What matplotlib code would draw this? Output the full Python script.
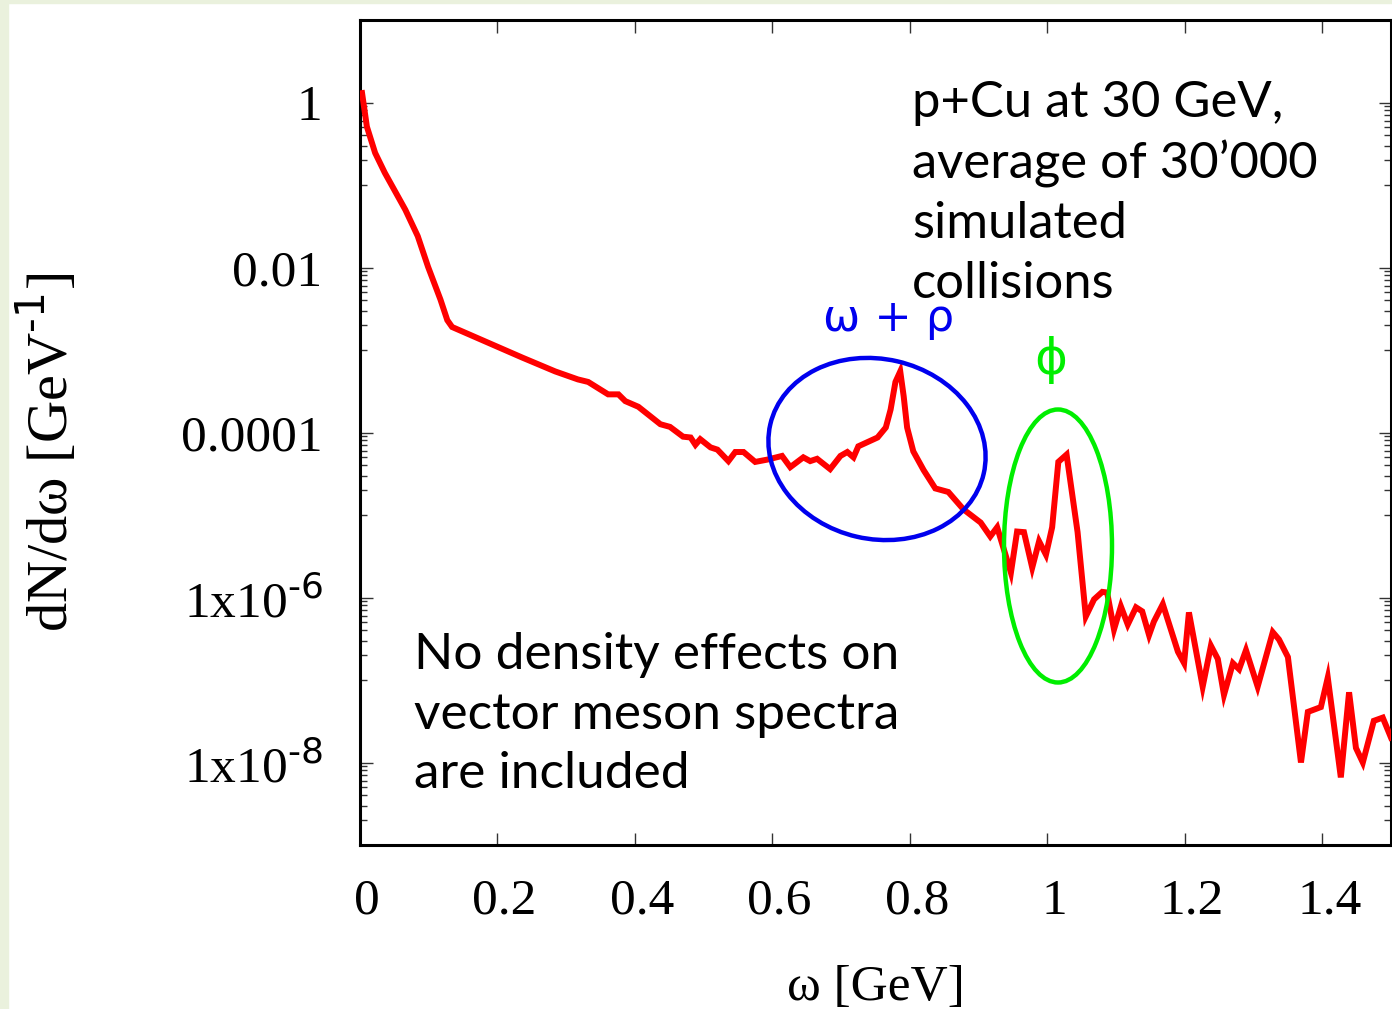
import matplotlib
matplotlib.use("Agg")
import matplotlib.pyplot as plt
from matplotlib.patches import Ellipse, Rectangle
from matplotlib.ticker import NullFormatter
from matplotlib.transforms import ScaledTranslation

# spectrum (omega in GeV, dN/domega in 1/GeV)
omega = [0.003, 0.010, 0.022, 0.036, 0.066, 0.084, 0.099, 0.117, 0.127, 0.134,
         0.186, 0.236, 0.284, 0.317, 0.332, 0.361, 0.376, 0.386, 0.405, 0.437,
         0.451, 0.470, 0.481, 0.488, 0.495, 0.510, 0.520, 0.536, 0.546, 0.558,
         0.575, 0.593, 0.614, 0.626, 0.645, 0.655, 0.665, 0.684, 0.699, 0.709,
         0.718, 0.725, 0.753, 0.765, 0.772, 0.779, 0.786, 0.791, 0.796, 0.805,
         0.820, 0.837, 0.856, 0.878, 0.903, 0.917, 0.927, 0.947, 0.956, 0.966,
         0.978, 0.988, 0.998, 1.007, 1.016, 1.028, 1.044, 1.056, 1.068, 1.080,
         1.087, 1.097, 1.107, 1.117, 1.129, 1.138, 1.148, 1.155, 1.168, 1.190,
         1.199, 1.206, 1.226, 1.238, 1.248, 1.257, 1.270, 1.279, 1.289, 1.306,
         1.328, 1.337, 1.350, 1.369, 1.379, 1.398, 1.408, 1.427, 1.439, 1.449,
         1.459, 1.475, 1.488, 1.500]
dNdw = [1.3, 0.51, 0.245, 0.141, 0.050, 0.024, 0.0102, 0.0041, 0.0023, 0.0019,
        1.23e-3, 8.1e-4, 5.5e-4, 4.4e-4, 4.1e-4, 2.9e-4, 2.9e-4, 2.4e-4, 2.05e-4, 1.26e-4,
        1.17e-4, 8.9e-5, 8.7e-5, 7.1e-5, 8.3e-5, 6.6e-5, 6.2e-5, 4.5e-5, 5.8e-5, 5.8e-5,
        4.4e-5, 4.7e-5, 5.2e-5, 3.8e-5, 5.0e-5, 4.5e-5, 4.8e-5, 3.6e-5, 5.2e-5, 5.8e-5,
        5.0e-5, 6.8e-5, 8.7e-5, 1.15e-4, 1.9e-4, 4.1e-4, 5.5e-4, 2.75e-4, 1.15e-4, 5.9e-5,
        3.5e-5, 2.1e-5, 1.9e-5, 1.17e-5, 8.1e-6, 5.5e-6, 7.1e-6, 2.0e-6, 6.3e-6, 6.2e-6,
        2.3e-6, 4.8e-6, 3.3e-6, 7.1e-6, 4.4e-5, 5.4e-5, 6.2e-6, 5.9e-7, 9.5e-7, 1.17e-6,
        1.15e-6, 4.1e-7, 7.8e-7, 4.7e-7, 7.6e-7, 6.8e-7, 3.5e-7, 5.1e-7, 8.3e-7, 2.2e-7,
        1.6e-7, 6.6e-7, 8.3e-8, 2.6e-7, 1.8e-7, 6.6e-8, 1.6e-7, 1.35e-7, 2.3e-7, 8.3e-8,
        3.8e-7, 3.1e-7, 1.9e-7, 1.0e-8, 4.1e-8, 4.7e-8, 1.07e-7, 6.6e-9, 7.1e-8, 1.5e-8,
        1.0e-8, 3.2e-8, 3.5e-8, 2.0e-8]

xticks = [0, 0.2, 0.4, 0.6, 0.8, 1.0, 1.2, 1.4]
xtick_labels = ["0", "0.2", "0.4", "0.6", "0.8", "1", "1.2", "1.4"]
yticks = [1, 1e-2, 1e-4, 1e-6, 1e-8]
ytick_labels = ["1", "0.01", "0.0001", r"1x10$^{\text{-6}}$", r"1x10$^{\text{-8}}$"]

W, H = 1392, 1009
fig = plt.figure(figsize=(W / 100, H / 100), dpi=100)
fig.patch.set_facecolor("white")
# pale green slide border
fig.patches.append(Rectangle((0, 0), 8 / W, 1, transform=fig.transFigure, color="#eaf1dd", zorder=0))
fig.patches.append(Rectangle((0, 1 - 3 / H), 1, 3 / H, transform=fig.transFigure, color="#eaf1dd", zorder=0))

ax = fig.add_axes([360 / W, 1 - 845 / H, 1031 / W, 825 / H])
ax.plot(omega, dNdw, color="#ff0000", lw=4.3, solid_joinstyle="miter", zorder=3)
ax.set_yscale("log")
ax.set_xlim(0, 1.5)
ax.set_ylim(1e-9, 10)

serif = ["Liberation Serif", "DejaVu Serif"]
plt.rcParams["mathtext.fontset"] = "custom"
plt.rcParams["mathtext.rm"] = "Liberation Serif"

ax.set_xticks(xticks)
ax.set_xticklabels(xtick_labels, family=serif, fontsize=37)
ax.set_yticks(yticks)
ax.set_yticklabels(ytick_labels, family=serif, fontsize=37)
ax.set_yticks([m * k / 10 for m in yticks for k in range(1, 10)], minor=True)
ax.yaxis.set_minor_formatter(NullFormatter())
ax.tick_params(which="both", direction="in", top=True, right=True, color="#333333", width=1)
ax.tick_params(which="major", length=9)
ax.tick_params(which="minor", length=5)
ax.tick_params(axis="y", which="major", pad=27)
ax.tick_params(axis="x", which="major", pad=24)
shift = ScaledTranslation(7 / 100, 0, fig.dpi_scale_trans)
for lab in ax.get_xticklabels():
    lab.set_transform(lab.get_transform() + shift)
for s in ax.spines.values():
    s.set_linewidth(2.2)

ax.set_xlabel("ω [GeV]", family=serif, fontsize=37)
ax.xaxis.set_label_coords(0.5, -0.145)
ax.set_ylabel(r"dN/dω [GeV$^{\text{-1}}$]", family=serif, fontsize=42)
ax.yaxis.set_label_coords(-0.272, 0.476)

# annotations (pixel positions converted to figure fractions)
sans = ["Lato", "DejaVu Sans"]
fig.text(912 / W, 1 - 80 / H, "p+Cu at 30 GeV,\naverage of 30’000\nsimulated\ncollisions",
         family=sans, fontsize=36.5, va="top", ha="left", linespacing=1.36)
fig.text(414 / W, 1 - 632 / H, "No density effects on\nvector meson spectra\nare included",
         family=sans, fontsize=37, va="top", ha="left", linespacing=1.37)
fig.text(823 / W, 1 - 331 / H, "ω + ρ", family=["DejaVu Sans"], fontsize=32,
         color="#0000ee", va="baseline", ha="left")
fig.text(1051 / W, 1 - 360 / H, "ϕ", family=["DejaVu Sans"], fontsize=36,
         color="#00ee00", va="center", ha="center")

fig.patches.append(Ellipse((877 / 100, (H - 449) / 100), 2.19, 1.80, angle=-13,
                           transform=fig.dpi_scale_trans, fill=False, ec="#0000ee", lw=3.2, zorder=5))
fig.patches.append(Ellipse((1058 / 100, (H - 546) / 100), 1.08, 2.73,
                           transform=fig.dpi_scale_trans, fill=False, ec="#00ee00", lw=3.2, zorder=5))

fig.savefig("out.png", dpi=100)
